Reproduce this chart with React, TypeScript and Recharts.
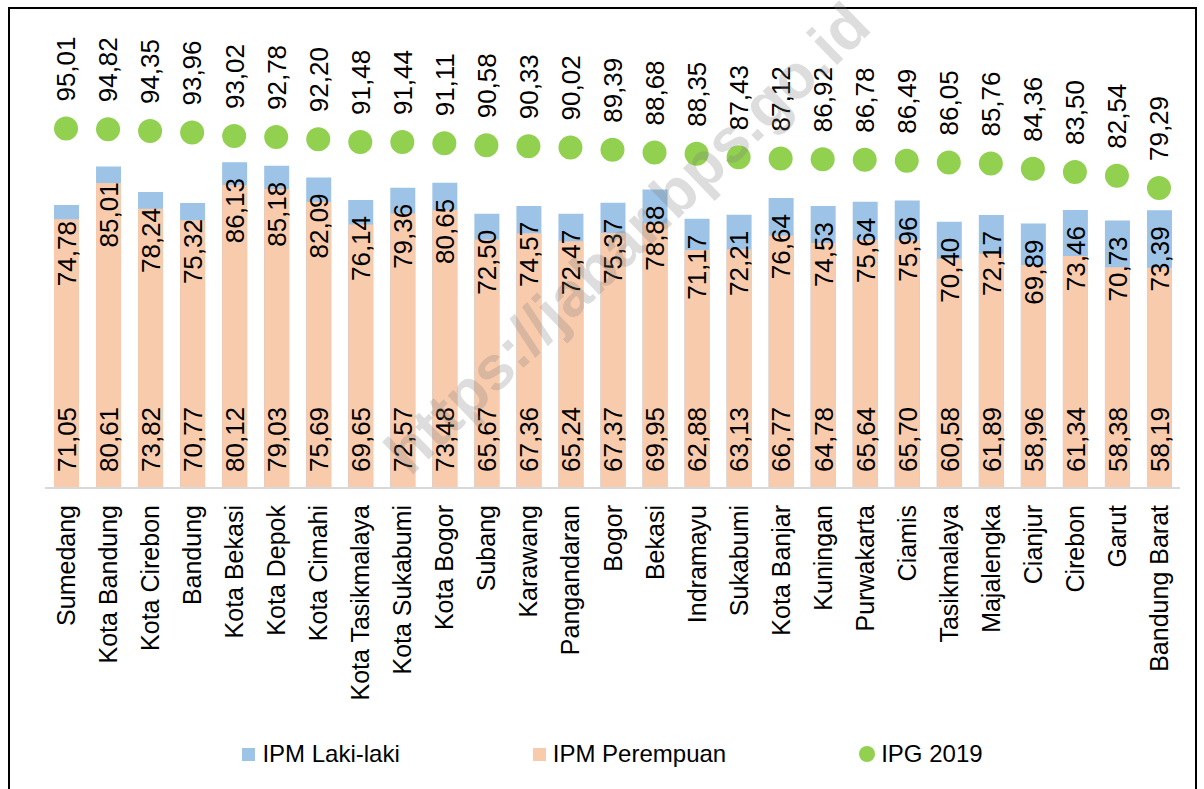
import React from 'react';
import { ComposedChart, Bar, Line, XAxis, YAxis, LabelList, Legend } from 'recharts';

const categories = [
  'Sumedang', 'Kota Bandung', 'Kota Cirebon', 'Bandung', 'Kota Bekasi', 'Kota Depok', 'Kota Cimahi',
  'Kota Tasikmalaya', 'Kota Sukabumi', 'Kota Bogor', 'Subang', 'Karawang', 'Pangandaran', 'Bogor',
  'Bekasi', 'Indramayu', 'Sukabumi', 'Kota Banjar', 'Kuningan', 'Purwakarta', 'Ciamis', 'Tasikmalaya',
  'Majalengka', 'Cianjur', 'Cirebon', 'Garut', 'Bandung Barat',
];

const ipmLaki = [
  74.78, 85.01, 78.24, 75.32, 86.13, 85.18, 82.09, 76.14, 79.36, 80.65, 72.5, 74.57, 72.47, 75.37,
  78.88, 71.17, 72.21, 76.64, 74.53, 75.64, 75.96, 70.4, 72.17, 69.89, 73.46, 70.73, 73.39,
];

const ipmPerempuan = [
  71.05, 80.61, 73.82, 70.77, 80.12, 79.03, 75.69, 69.65, 72.57, 73.48, 65.67, 67.36, 65.24, 67.37,
  69.95, 62.88, 63.13, 66.77, 64.78, 65.64, 65.7, 60.58, 61.89, 58.96, 61.34, 58.38, 58.19,
];

const ipg2019 = [
  95.01, 94.82, 94.35, 93.96, 93.02, 92.78, 92.2, 91.48, 91.44, 91.11, 90.58, 90.33, 90.02, 89.39,
  88.68, 88.35, 87.43, 87.12, 86.92, 86.78, 86.49, 86.05, 85.76, 84.36, 83.5, 82.54, 79.29,
];

const seriesNames = ['IPM Laki-laki', 'IPM Perempuan', 'IPG 2019'];
const seriesColors = ['#9DC3E6', '#F8CBAD', '#92D050'];

const data = categories.map((name, i) => ({
  name,
  laki: ipmLaki[i],
  perempuan: ipmPerempuan[i],
  ipg: ipg2019[i],
}));

const FONT = '"Liberation Sans", Arial, Helvetica, sans-serif';
const fmt = (v: number) => Number(v).toFixed(2).replace('.', ',');

const CategoryTick = (props: any) => {
  const { x, y, payload } = props;
  const ty = y + 17;
  return (
    <text
      x={x}
      y={ty}
      transform={`rotate(-90, ${x}, ${ty})`}
      textAnchor="end"
      dy="0.36em"
      fontSize={25}
      fontFamily={FONT}
      fill="#000"
    >
      {payload.value}
    </text>
  );
};

const rotatedText = (cx: number, ty: number, anchor: 'start' | 'end', value: number, key?: any) => (
  <text
    key={key}
    x={cx}
    y={ty}
    transform={`rotate(-90, ${cx}, ${ty})`}
    textAnchor={anchor}
    dy="0.36em"
    fontSize={26}
    fontFamily={FONT}
    fill="#000"
  >
    {fmt(value)}
  </text>
);

const LakiLabel = (p: any) => {
  const { x, y, width, value } = p;
  return rotatedText(Number(x) + Number(width) / 2, Number(y) + 16, 'end', value);
};

const PerempuanLabel = (p: any) => {
  const { x, y, width, height, value } = p;
  return rotatedText(Number(x) + Number(width) / 2, Number(y) + Number(height) - 16, 'start', value);
};

const IpgLabel = (p: any) => {
  const { x, y, value } = p;
  return rotatedText(Number(x), Number(y) - 27, 'start', value);
};

const renderLegend = () => (
  <div
    style={{
      display: 'flex',
      justifyContent: 'center',
      alignItems: 'center',
      gap: 133,
      height: 50,
      fontFamily: FONT,
      fontSize: 24,
      color: '#000',
    }}
  >
    {seriesNames.map((name, i) => (
      <div key={name} style={{ display: 'flex', alignItems: 'center' }}>
        <span
          style={{
            display: 'inline-block',
            width: i === 2 ? 16 : 13,
            height: i === 2 ? 16 : 13,
            borderRadius: i === 2 ? '50%' : 0,
            background: seriesColors[i],
            marginRight: i === 2 ? 6 : 7,
          }}
        />
        <span>{name}</span>
      </div>
    ))}
  </div>
);

export default function App() {
  return (
    <div style={{ position: 'absolute', left: 0, top: 0, width: 1204, height: 789, background: '#fff', overflow: 'hidden' }}>
      <div
        style={{
          position: 'absolute',
          left: 8,
          top: 7,
          width: 1189,
          height: 800,
          border: '2px solid #000',
          boxSizing: 'border-box',
        }}
      />
      <div style={{ position: 'absolute', left: 0, top: 0 }}>
        <ComposedChart
          width={1204}
          height={789}
          data={data}
          margin={{ top: 34, right: 24, bottom: 10, left: 45 }}
        >
          <XAxis
            dataKey="name"
            interval={0}
            tick={<CategoryTick />}
            tickLine={false}
            tickSize={0}
            tickMargin={0}
            axisLine={{ stroke: '#D9D9D9', strokeWidth: 2 }}
            height={241}
          />
          <XAxis xAxisId="back" dataKey="name" hide />
          <XAxis xAxisId="front" dataKey="name" hide />
          <YAxis hide domain={[0, 120]} />
          <Bar xAxisId="back" dataKey="laki" name={seriesNames[0]} fill={seriesColors[0]} barSize={25} isAnimationActive={false} />
          <Bar dataKey="perempuan" name={seriesNames[1]} fill={seriesColors[1]} barSize={25} isAnimationActive={false}>
            <LabelList dataKey="perempuan" content={PerempuanLabel} />
          </Bar>
          <Bar xAxisId="front" dataKey="laki" fill="transparent" barSize={25} isAnimationActive={false} legendType="none">
            <LabelList dataKey="laki" content={LakiLabel} />
          </Bar>
          <Line
            dataKey="ipg"
            name={seriesNames[2]}
            stroke="none"
            dot={{ r: 12, fill: seriesColors[2], stroke: 'none', strokeWidth: 0 }}
            activeDot={false}
            isAnimationActive={false}
          >
            <LabelList dataKey="ipg" content={IpgLabel} />
          </Line>
          <Legend verticalAlign="bottom" height={50} content={renderLegend} />
        </ComposedChart>
      </div>
      <div
        style={{
          position: 'absolute',
          left: 627,
          top: 238,
          transform: 'translate(-50%, -50%) rotate(-44deg)',
          fontFamily: FONT,
          fontWeight: 'bold',
          fontSize: 62,
          color: 'rgba(120,120,120,0.25)',
          whiteSpace: 'nowrap',
          pointerEvents: 'none',
        }}
      >
        https://jabar.bps.go.id
      </div>
    </div>
  );
}
